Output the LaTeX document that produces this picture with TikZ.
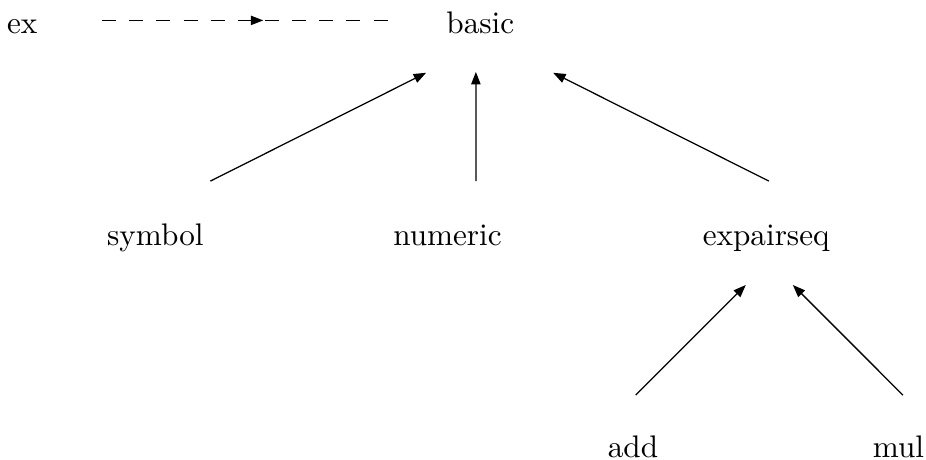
\documentclass[tikz,border=0pt]{standalone}
\usetikzlibrary{arrows.meta,decorations.markings}

\begin{document}
\begin{tikzpicture}[>={Triangle[length=4pt,width=3pt]},
    cls/.style={anchor=base,inner sep=0pt},
    midarrow/.style={postaction={decorate},
      decoration={markings,mark=at position 0.55 with {\arrow{>}}}}]
      \useasboundingbox (0,0) rectangle (10.43,5.18);

      %%%%%%%%%%%%%%%%%%%%%%%%%%%%%%%%%%%%%%%%%%%%%%%%%%%%%%%%%%%%%%%%%%%%%%%%%%%
      %%%%  Classes
      \node[cls] (ex) at (0.25,4.80) {ex};
      \node[cls] (basic) at (5.41,4.80) {basic};
      \node[cls] (symbol) at (1.75,2.42) {symbol};
      \node[cls] (numeric) at (5.04,2.42) {numeric};
      \node[cls] (expairseq) at (8.63,2.42) {expairseq};
      \node[cls] (add) at (7.13,0.03) {add};
      \node[cls] (mul) at (10.12,0.03) {mul};

      %%%%%%%%%%%%%%%%%%%%%%%%%%%%%%%%%%%%%%%%%%%%%%%%%%%%%%%%%%%%%%%%%%%%%%%%%%%
      %%%%  ex points to basic
      \draw[midarrow,dash pattern=on 4.5pt off 4.2pt]
        ([shift={(0.90,0.15)}]ex.base) -- ([shift={(-0.96,0.15)}]basic.base);

      %%%%%%%%%%%%%%%%%%%%%%%%%%%%%%%%%%%%%%%%%%%%%%%%%%%%%%%%%%%%%%%%%%%%%%%%%%%
      %%%%  Derived from basic
      \draw[->] ([shift={(0.62,0.72)}]symbol.base) -- ([shift={(-0.61,-0.44)}]basic.base);
      \draw[->] ([shift={(0.32,0.72)}]numeric.base) -- ([shift={(-0.05,-0.43)}]basic.base);
      \draw[->] ([shift={(0.03,0.72)}]expairseq.base) -- ([shift={(0.82,-0.44)}]basic.base);

      %%%%%%%%%%%%%%%%%%%%%%%%%%%%%%%%%%%%%%%%%%%%%%%%%%%%%%%%%%%%%%%%%%%%%%%%%%%
      %%%%  Derived from expairseq
      \draw[->] ([shift={(0.03,0.70)}]add.base) -- ([shift={(-0.23,-0.45)}]expairseq.base);
      \draw[->] ([shift={(0.05,0.70)}]mul.base) -- ([shift={(0.30,-0.45)}]expairseq.base);
    \end{tikzpicture}
\end{document}
